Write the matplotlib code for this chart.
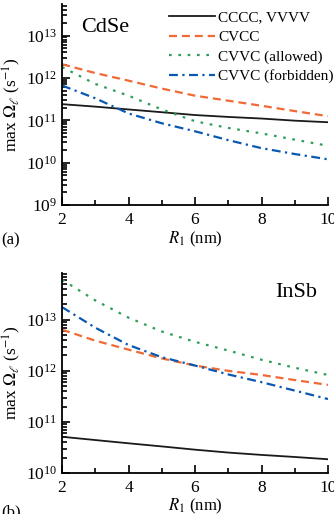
import numpy as np
import matplotlib
matplotlib.use("Agg")
from matplotlib import pyplot as plt
from matplotlib.ticker import LogLocator, NullFormatter

plt.rcParams['font.family'] = ['Liberation Serif', 'DejaVu Serif']
plt.rcParams['mathtext.fontset'] = 'stix'

R = [2, 3, 4, 5, 6, 7, 8, 9, 10]

# CdSe
cdse_cccc = [2.4e11, 2.1e11, 1.8e11, 1.55e11, 1.33e11, 1.2e11, 1.1e11, 0.98e11, 0.9e11]
cdse_cvcc = [2.1e12, 1.3e12, 0.86e12, 0.56e12, 0.38e12, 0.29e12, 0.22e12, 0.165e12, 0.125e12]
cdse_allowed = [1.8e12, 0.72e12, 0.38e12, 0.18e12, 0.095e12, 0.066e12, 0.049e12, 0.035e12, 0.025e12]
cdse_forbidden = [6.6e11, 3.3e11, 1.45e11, 0.85e11, 0.55e11, 0.34e11, 0.22e11, 0.16e11, 0.12e11]

# InSb
insb_cccc = [5.1e10, 4.4e10, 3.8e10, 3.3e10, 2.85e10, 2.5e10, 2.25e10, 2.05e10, 1.85e10]
insb_cvcc = [6.4e12, 3.9e12, 2.6e12, 1.75e12, 1.27e12, 1.0e12, 0.83e12, 0.66e12, 0.53e12]
insb_allowed = [6.1e13, 2.4e13, 1.1e13, 5.9e12, 3.7e12, 2.5e12, 1.65e12, 1.15e12, 0.83e12]
insb_forbidden = [1.77e13, 7.0e12, 3.2e12, 1.85e12, 1.27e12, 0.85e12, 0.6e12, 0.41e12, 0.28e12]

labels = ['CCCC, VVVV', 'CVCC', 'CVVC (allowed)', 'CVVC (forbidden)']
colors = ['#1a1a1a', '#f06a35', '#2e9e58', '#0a58b0']
styles = ['-', (0, (3.6, 2.2)), (0, (1.2, 3)), (0, (4, 2, 1, 2))]

fig = plt.figure(figsize=(3.34, 5.14), dpi=100)
ax1 = fig.add_axes([0.186, 0.601, 0.796, 0.391])
ax2 = fig.add_axes([0.186, 0.080, 0.796, 0.389])

def style_ax(ax, ylim):
    ax.set_yscale('log')
    ax.set_xlim(2, 10)
    ax.set_ylim(*ylim)
    for s in ['top', 'right']:
        ax.spines[s].set_visible(False)
    for s in ['left', 'bottom']:
        ax.spines[s].set_linewidth(1.3)
    ax.set_xticks([2, 4, 6, 8, 10])
    ax.set_xticks([3, 5, 7, 9], minor=True)
    ax.yaxis.set_major_locator(LogLocator(base=10, numticks=10))
    ax.yaxis.set_minor_locator(LogLocator(base=10, subs=np.arange(2, 10), numticks=20))
    ax.yaxis.set_minor_formatter(NullFormatter())
    ax.tick_params(which='both', direction='in', labelsize=12.5, width=1.2)
    ax.tick_params(which='major', length=6)
    ax.tick_params(which='minor', length=3.5)
    ax.tick_params(axis='x', pad=5)
    ax.set_xlabel('$R_1$ (nm)', fontsize=12, labelpad=1)
    ax.set_ylabel(r'max $\Omega_\ell$ (s$^{-1}$)', fontsize=12.5, labelpad=2)

for ax, data in [(ax1, [cdse_cccc, cdse_cvcc, cdse_allowed, cdse_forbidden]),
                 (ax2, [insb_cccc, insb_cvcc, insb_allowed, insb_forbidden])]:
    for y, lab, c, ls in zip(data, labels, colors, styles):
        lw = 1.3 if lab.startswith('CCCC') else 1.6
        ax.plot(R, y, color=c, linestyle=ls, linewidth=lw, label=lab)

style_ax(ax1, (1e9, 5.5e13))
style_ax(ax2, (1e10, 8.3e13))

ax1.text(0.07, 0.93, 'CdSe', transform=ax1.transAxes, fontsize=16, va='top')
ax2.text(0.80, 0.95, 'InSb', transform=ax2.transAxes, fontsize=16, va='top')

ax1.legend(loc='upper right', bbox_to_anchor=(1.05, 1.005), frameon=False, fontsize=11,
           handlelength=3.0, handletextpad=0.2, labelspacing=0.38, borderaxespad=0.1)

fig.text(0.003, 0.533, '(a)', fontsize=12, va='center')
fig.text(0.003, 0.003, '(b)', fontsize=12, va='center')

fig.savefig('out.png', dpi=100)
